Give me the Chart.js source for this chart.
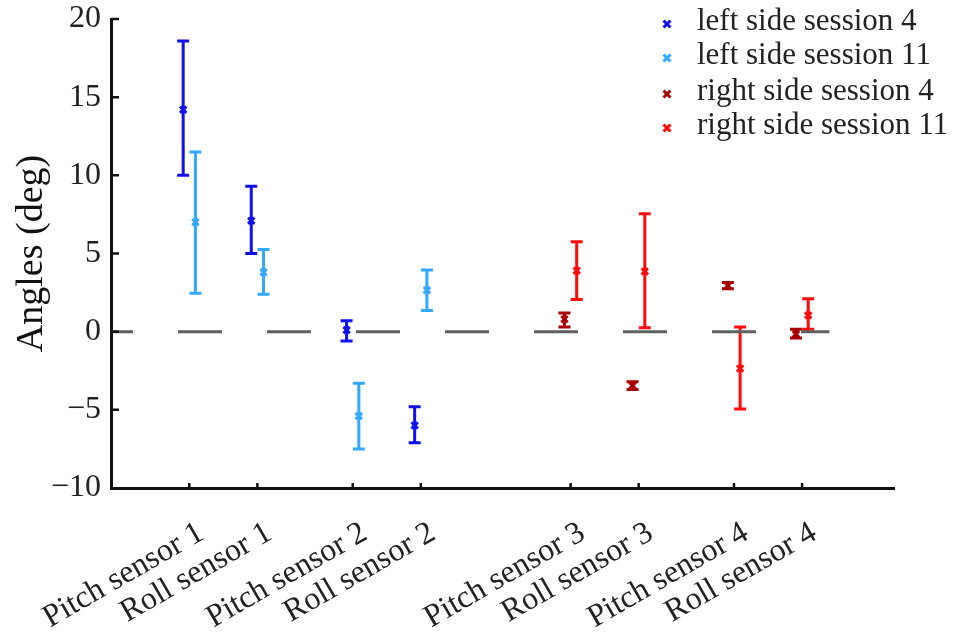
<!DOCTYPE html>
<html><head><meta charset="utf-8">
<script src="https://cdn.jsdelivr.net/npm/chart.js@4/dist/chart.umd.min.js"></script>
<style>html,body{margin:0;padding:0;background:#fff}#wrap{width:958px;height:639px}</style>
</head><body><div id="wrap"><canvas id="c" width="958" height="639"></canvas></div>
<script>
// ---- data ----
const categories = ['Pitch sensor 1','Roll sensor 1','Pitch sensor 2','Roll sensor 2','Pitch sensor 3','Roll sensor 3','Pitch sensor 4','Roll sensor 4'];
const categoryPositions = [1, 2, 3.4, 4.4, 6.6, 7.6, 9, 10];
const yTickValues = [-10, -5, 0, 5, 10, 15, 20];
const seriesNames = ['left side session 4','left side session 11','right side session 4','right side session 11'];

// left side: first four categories (sensors 1-2)
const leftSession4Mean  = [14.2, 7.1, 0.1, -6.0];
const leftSession4Low   = [10.0, 5.0, -0.6, -7.1];
const leftSession4High  = [18.6, 9.3, 0.7, -4.8];
const leftSession11Mean = [7.0, 3.8, -5.4, 2.65];
const leftSession11Low  = [2.45, 2.4, -7.5, 1.35];
const leftSession11High = [11.5, 5.25, -3.3, 3.95];
// right side: last four categories (sensors 3-4)
const rightSession4Mean  = [0.8, -3.45, 2.95, -0.15];
const rightSession4Low   = [0.3, -3.7, 2.75, -0.4];
const rightSession4High  = [1.2, -3.2, 3.15, 0.15];
const rightSession11Mean = [3.9, 3.85, -2.35, 1.05];
const rightSession11Low  = [2.05, 0.25, -4.95, 0.15];
const rightSession11High = [5.75, 7.55, 0.3, 2.1];
const zeroLineSpan = [-0.15, 10.4];

// ---- styling ----
const colors = ['#1010F0', '#33A8FF', '#A80000', '#FF0A0A'];
const pairOffset = 0.09;
const SERIF = "'Liberation Serif', 'Times New Roman', serif";

function pts(catIdx, means, off) {
  return means.map((m, i) => ({x: categoryPositions[catIdx[i]] + off, y: m}));
}
const leftIdx = [0,1,2,3], rightIdx = [4,5,6,7];

const datasets = [
  {label: seriesNames[0], data: pts(leftIdx, leftSession4Mean, -pairOffset), errLow: leftSession4Low, errHigh: leftSession4High, color: colors[0]},
  {label: seriesNames[1], data: pts(leftIdx, leftSession11Mean, pairOffset), errLow: leftSession11Low, errHigh: leftSession11High, color: colors[1]},
  {label: seriesNames[2], data: pts(rightIdx, rightSession4Mean, -pairOffset), errLow: rightSession4Low, errHigh: rightSession4High, color: colors[2]},
  {label: seriesNames[3], data: pts(rightIdx, rightSession11Mean, pairOffset), errLow: rightSession11Low, errHigh: rightSession11High, color: colors[3]},
].map(d => ({
  type: 'scatter', label: d.label, data: d.data, errLow: d.errLow, errHigh: d.errHigh,
  borderColor: d.color, backgroundColor: d.color, pointStyle: 'crossRot',
  pointRadius: 4.5, pointBorderWidth: 3, showLine: false, order: 1
}));

datasets.push({
  type: 'line', label: 'zero', data: zeroLineSpan.map(v => ({x: v, y: 0})),
  borderColor: '#5f5f5f', borderWidth: 3, borderDash: [44, 45], borderDashOffset: 22,
  pointRadius: 0, fill: false, order: 0, isZero: true
});

const errorBarPlugin = {
  id: 'errorBars',
  beforeDatasetsDraw(chart) {
    const {ctx, scales: {x, y}} = chart;
    chart.data.datasets.forEach(ds => {
      if (!ds.errLow) return;
      ctx.save();
      ctx.strokeStyle = ds.borderColor; ctx.lineWidth = 3; ctx.lineCap = 'butt';
      ds.data.forEach((p, j) => {
        const px = x.getPixelForValue(p.x);
        const lo = y.getPixelForValue(ds.errLow[j]);
        const hi = y.getPixelForValue(ds.errHigh[j]);
        ctx.beginPath();
        ctx.moveTo(px, lo); ctx.lineTo(px, hi);
        ctx.moveTo(px - 6, lo); ctx.lineTo(px + 6, lo);
        ctx.moveTo(px - 6, hi); ctx.lineTo(px + 6, hi);
        ctx.stroke();
      });
      ctx.restore();
    });
  }
};

const innerTicksPlugin = {
  id: 'innerTicks',
  afterDraw(chart) {
    const {ctx, scales: {x, y}} = chart;
    ctx.save(); ctx.strokeStyle = '#111'; ctx.lineWidth = 2.5;
    ctx.beginPath();
    y.ticks.forEach(t => {
      if (t.value === y.min) return;
      const py = y.getPixelForValue(t.value);
      ctx.moveTo(x.left, py); ctx.lineTo(x.left + 8, py);
    });
    x.ticks.forEach(t => {
      const px = x.getPixelForValue(t.value);
      ctx.moveTo(px, y.bottom); ctx.lineTo(px, y.bottom - 5);
    });
    ctx.stroke(); ctx.restore();
  }
};

const legendPlugin = {
  id: 'customLegend',
  afterDraw(chart) {
    const {ctx} = chart;
    const mx = chart.width - 291, tx = chart.width - 261;
    const baselines = [30, 64, 100, 134];
    ctx.save();
    ctx.font = '31px ' + SERIF; ctx.fillStyle = '#222'; ctx.textBaseline = 'alphabetic'; ctx.textAlign = 'left';
    chart.data.datasets.filter(d => !d.isZero).forEach((ds, i) => {
      const cy = baselines[i] - 6, r = 3.5;
      ctx.strokeStyle = ds.borderColor; ctx.lineWidth = 3;
      ctx.beginPath();
      ctx.moveTo(mx - r, cy - r); ctx.lineTo(mx + r, cy + r);
      ctx.moveTo(mx - r, cy + r); ctx.lineTo(mx + r, cy - r);
      ctx.stroke();
      ctx.fillText(ds.label, tx, baselines[i]);
    });
    ctx.restore();
  }
};

new Chart(document.getElementById('c'), {
  data: {datasets},
  options: {
    responsive: false, devicePixelRatio: 1, animation: false,
    layout: {padding: {top: 19, right: 64, left: 0, bottom: 0}},
    plugins: {legend: {display: false}, tooltip: {enabled: false}},
    scales: {
      x: {
        type: 'linear', min: -0.15, max: 11.35,
        grid: {display: false, drawTicks: false},
        border: {display: true, color: '#111', width: 3},
        afterBuildTicks: axis => { axis.ticks = categoryPositions.map(v => ({value: v})); },
        afterFit: s => { s.height = 151; s.paddingLeft = 0; s.paddingRight = 0; },
        ticks: {
          autoSkip: false, maxRotation: 30, minRotation: 30, padding: 26, labelOffset: 12,
          color: '#222', font: {family: SERIF, size: 32},
          callback: v => categories[categoryPositions.indexOf(v)]
        }
      },
      y: {
        type: 'linear', min: -10, max: 20,
        grid: {display: false, drawTicks: false},
        border: {display: true, color: '#111', width: 3},
        afterBuildTicks: axis => { axis.ticks = yTickValues.map(v => ({value: v})); },
        afterFit: s => { s.width = 111; s.paddingTop = 0; s.paddingBottom = 0; },
        ticks: {padding: 10, color: '#222', font: {family: SERIF, size: 32},
          callback: v => (v < 0 ? '\u2212' + Math.abs(v) : String(v))},
        title: {display: true, text: 'Angles (deg)', color: '#111', font: {family: SERIF, size: 38}, padding: {top: 9, bottom: 0}}
      }
    }
  },
  plugins: [errorBarPlugin, innerTicksPlugin, legendPlugin]
});
</script>
</body></html>
